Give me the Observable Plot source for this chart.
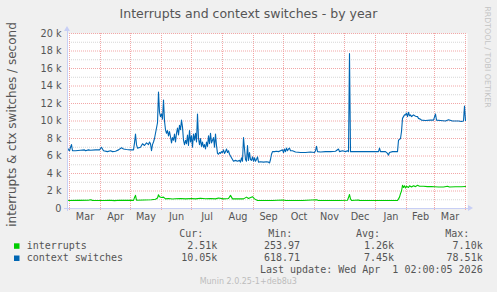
<!DOCTYPE html>
<html><head><meta charset="utf-8">
<script src="https://cdn.jsdelivr.net/npm/d3@7"></script>
<script src="https://cdn.jsdelivr.net/npm/@observablehq/plot@0.6"></script>
<style>
body{margin:0;background:#f0f0f0;}
#wrap{position:relative;width:497px;height:292px;overflow:hidden;background:#f0f0f0}
#wrap svg{position:absolute;left:0;top:0}
</style></head><body><div id="wrap"></div>
<script>
// ---------- data ----------
const ctxDates = ["2025-02-27","2025-02-28","2025-03-01","2025-03-02","2025-03-03","2025-03-04","2025-03-07","2025-03-12","2025-03-16","2025-03-17","2025-03-20","2025-03-22","2025-03-27","2025-03-31",
"2025-04-02","2025-04-04","2025-04-08","2025-04-11","2025-04-13","2025-04-16","2025-04-19","2025-04-22","2025-04-24","2025-04-27",
"2025-05-01","2025-05-04","2025-05-05","2025-05-06","2025-05-07","2025-05-08","2025-05-11","2025-05-13","2025-05-15","2025-05-17","2025-05-19","2025-05-20","2025-05-21","2025-05-22","2025-05-23","2025-05-24","2025-05-25","2025-05-26","2025-05-27","2025-05-28","2025-05-29","2025-05-30","2025-05-31",
"2025-06-01","2025-06-02","2025-06-03","2025-06-04","2025-06-05","2025-06-06","2025-06-07","2025-06-08","2025-06-09","2025-06-10","2025-06-11","2025-06-12","2025-06-13","2025-06-14","2025-06-15","2025-06-16","2025-06-17","2025-06-18","2025-06-19","2025-06-20","2025-06-21","2025-06-22","2025-06-23","2025-06-24","2025-06-25","2025-06-26","2025-06-27","2025-06-28","2025-06-29","2025-06-30",
"2025-07-01","2025-07-02","2025-07-03","2025-07-04","2025-07-05","2025-07-06","2025-07-07","2025-07-08","2025-07-09","2025-07-10","2025-07-11","2025-07-12","2025-07-13","2025-07-14","2025-07-15","2025-07-16","2025-07-17","2025-07-18","2025-07-19","2025-07-20","2025-07-21","2025-07-22","2025-07-23","2025-07-24","2025-07-25","2025-07-26","2025-07-27","2025-07-28","2025-07-29","2025-07-30","2025-07-31",
"2025-08-01","2025-08-02","2025-08-03","2025-08-04","2025-08-05","2025-08-06","2025-08-07","2025-08-08","2025-08-09","2025-08-11","2025-08-12","2025-08-14","2025-08-16","2025-08-18","2025-08-19","2025-08-20","2025-08-21","2025-08-22","2025-08-23","2025-08-24","2025-08-25","2025-08-26","2025-08-27","2025-08-28","2025-08-29","2025-08-30","2025-08-31",
"2025-09-01","2025-09-02","2025-09-03","2025-09-04","2025-09-05","2025-09-06","2025-09-08","2025-09-11","2025-09-14","2025-09-16","2025-09-17","2025-09-18","2025-09-19","2025-09-20","2025-09-22","2025-09-24","2025-09-26","2025-09-28","2025-09-30",
"2025-10-01","2025-10-02","2025-10-03","2025-10-04","2025-10-05","2025-10-06","2025-10-07","2025-10-08","2025-10-10","2025-10-13","2025-10-18","2025-10-23","2025-10-28",
"2025-11-01","2025-11-02","2025-11-03","2025-11-04","2025-11-07","2025-11-12","2025-11-17","2025-11-22","2025-11-25","2025-11-26","2025-11-29",
"2025-12-02","2025-12-04","2025-12-05","2025-12-06","2025-12-07","2025-12-09","2025-12-17","2025-12-27",
"2026-01-04","2026-01-05","2026-01-06","2026-01-11","2026-01-13","2026-01-14","2026-01-15","2026-01-18","2026-01-23","2026-01-24","2026-01-25","2026-01-26","2026-01-27","2026-01-28","2026-01-29","2026-01-30","2026-01-31",
"2026-02-01","2026-02-02","2026-02-03","2026-02-04","2026-02-05","2026-02-06","2026-02-07","2026-02-08","2026-02-10","2026-02-12","2026-02-13","2026-02-15","2026-02-16","2026-02-20","2026-02-25","2026-02-28",
"2026-03-02","2026-03-03","2026-03-07","2026-03-12","2026-03-15","2026-03-19","2026-03-25","2026-03-28","2026-03-30","2026-03-31","2026-04-01"];
const ctxValues = [6900,6700,6600,7000,7300,6600,6600,6650,6700,6600,6700,6650,6700,6700,
7000,6600,6500,6600,6500,6550,6700,6950,6800,6750,
6700,6700,7500,8500,7300,6900,7000,7400,7200,7500,7300,7600,7400,6600,7300,7600,8000,8600,9200,9800,13300,11000,10500,
10800,10200,12400,10000,9000,8600,8900,8300,8800,8200,7500,8100,7800,8500,7600,8600,9200,8400,9500,9000,10100,9300,7800,7300,7800,7400,8400,7200,8900,7600,
8300,7000,8500,7800,8600,7600,10800,8000,7300,8000,7100,7600,7000,7300,6800,7600,7100,8300,7400,8600,7500,7800,8100,7000,8500,7200,6300,6200,6400,6300,6500,
6400,6700,6300,6500,6800,6400,6600,6200,6000,5600,5400,5500,5400,5500,5300,5800,5400,8100,6800,5600,5400,7200,5500,6400,5600,5500,5900,
5400,5800,5400,5600,5900,5300,5350,5300,5350,5300,5200,5600,6200,6500,6500,6550,6500,6600,6700,
6400,6800,6500,6900,6600,6800,6900,6600,6600,6450,6400,6400,6450,
6400,6600,7100,6500,6450,6500,6500,6550,6800,6500,6600,
6500,6600,6500,17700,6500,6500,6500,6500,
6500,6900,6500,6500,6300,6100,6400,6500,6500,7800,7900,8000,8800,10300,10500,10700,10700,
10900,10500,11000,10600,10700,10500,10600,10700,10550,10500,10300,10200,10100,10050,10100,10100,
10800,10100,10050,10000,10150,10000,10000,9950,10000,11700,10050];

const intDates = ["2025-02-27","2025-03-01","2025-03-10","2025-03-20","2025-03-22","2025-03-24","2025-04-05","2025-04-10","2025-04-15","2025-04-20","2025-05-01","2025-05-04","2025-05-05","2025-05-06","2025-05-07","2025-05-15","2025-05-22","2025-05-26","2025-05-28","2025-05-29","2025-05-30",
"2025-06-01","2025-06-03","2025-06-05","2025-06-08","2025-06-12","2025-06-15","2025-06-20","2025-06-25","2025-07-01","2025-07-05","2025-07-10","2025-07-15","2025-07-20","2025-07-25","2025-07-28","2025-08-02","2025-08-07","2025-08-09","2025-08-11","2025-08-16","2025-08-22","2025-08-25","2025-08-27","2025-08-28","2025-08-31","2025-09-02","2025-09-05",
"2025-09-20","2025-10-01","2025-10-03","2025-10-20","2025-11-03","2025-11-05","2025-11-25","2025-12-04","2025-12-05","2025-12-06","2025-12-07","2025-12-08","2025-12-15","2025-12-16","2025-12-30","2026-01-15","2026-01-23",
"2026-01-24","2026-01-25","2026-01-26","2026-01-27","2026-01-28","2026-01-29","2026-01-30","2026-01-31","2026-02-01","2026-02-03","2026-02-04","2026-02-06","2026-02-08","2026-02-10","2026-02-12","2026-02-14","2026-02-18","2026-02-22","2026-02-26","2026-03-01","2026-03-05","2026-03-10","2026-03-14","2026-03-16","2026-03-22","2026-03-28","2026-04-01"];
const intValues = [950,920,930,950,1000,930,920,950,900,940,930,930,1250,1500,950,980,1000,1050,1200,1570,1350,
1250,1300,1100,1150,1080,1120,1150,1100,1150,1100,1180,1120,1150,1100,1200,1100,1150,1500,1100,1120,1100,1300,1150,1200,1350,1100,920,
920,980,920,920,1000,920,920,950,1250,1600,1100,920,970,920,920,920,920,
1100,1300,1700,2000,2650,2400,2600,2350,2550,2400,2600,2450,2600,2500,2650,2550,2550,2500,2500,2480,2450,2450,2550,2450,2480,2480,2510];

const seriesNames = ["interrupts", "context switches"];
const seriesColors = ["#00cc00", "#0066b3"];
const curValues = ["2.51k", "10.05k"];
const minValues = ["253.97", "618.71"];
const avgValues = ["1.26k", "7.45k"];
const maxValues = ["7.10k", "78.51k"];

const monthStarts = ["2025-03-01","2025-04-01","2025-05-01","2025-06-01","2025-07-01","2025-08-01","2025-09-01","2025-10-01","2025-11-01","2025-12-01","2026-01-01","2026-02-01","2026-03-01","2026-04-01"];
const monthLabels = ["Mar","Apr","May","Jun","Jul","Aug","Sep","Oct","Nov","Dec","Jan","Feb","Mar"];
const yTicks = [0,2000,4000,6000,8000,10000,12000,14000,16000,18000,20000];
const yMinor = [1000,3000,5000,7000,9000,11000,13000,15000,17000,19000];

const title = "Interrupts and context switches - by year";
const yLabel = "interrupts & ctx switches / second";
const lastUpdate = "Last update: Wed Apr  1 02:00:05 2026";
const footer = "Munin 2.0.25-1+deb8u3";
const watermark = "RRDTOOL / TOBI OETIKER";

// ---------- build ----------
const parse = d3.utcParse("%Y-%m-%d");
const ctx = ctxDates.map((d, i) => ({date: parse(d), v: ctxValues[i]}));
const intr = intDates.map((d, i) => ({date: parse(d), v: intValues[i]}));
const starts = monthStarts.map(parse);
const mids = monthLabels.map((m, i) => new Date((+starts[i] + +starts[i + 1]) / 2));
const xDomain = [parse("2025-02-27"), parse("2026-04-03")];

const axisColor = "#c8cff5";
const majorGrid = "#f2a7a7";
const minorGrid = "#d6d6d6";
const textColor = "#555";

const chart = Plot.plot({
  width: 497, height: 292,
  marginTop: 33, marginBottom: 84, marginLeft: 67, marginRight: 30,
  style: {background: "transparent", fontFamily: "DejaVu Sans", fontSize: "9.7px", color: textColor, overflow: "visible"},
  x: {type: "utc", domain: xDomain, axis: null},
  y: {domain: [0, 20000], axis: null},
  marks: [
    Plot.frame({fill: "white", stroke: null}),
    Plot.ruleY(yMinor, {stroke: minorGrid, strokeDasharray: "1,1"}),
    Plot.ruleY(yTicks.slice(1), {stroke: majorGrid, strokeDasharray: "1,1"}),
    Plot.ruleX(starts, {stroke: majorGrid, strokeDasharray: "1,1", insetBottom: -2}),
    Plot.axisY(yTicks, {anchor: "left", tickSize: 0, tickPadding: 6, label: null,
      tickFormat: d => d === 0 ? "0" : `${d / 1000} k`}),
    Plot.axisX(mids, {anchor: "bottom", tickSize: 0, tickPadding: 5, label: null,
      tickFormat: (d, i) => monthLabels[i]}),
    Plot.line(intr, {x: "date", y: "v", stroke: seriesColors[0], strokeWidth: 1.1}),
    Plot.line(ctx, {x: "date", y: "v", stroke: seriesColors[1], strokeWidth: 1.1}),
    Plot.ruleY([0], {stroke: axisColor, insetLeft: -3, insetRight: -3}),
    Plot.ruleX([xDomain[0]], {stroke: axisColor, insetTop: -4, insetBottom: -3})
  ]
});
document.getElementById("wrap").appendChild(chart);

// ---------- overlay: title, labels, legend ----------
const svg = d3.select(chart);
const sx = chart.scale("x"), sy = chart.scale("y");
const x0 = sx.apply(xDomain[0]), x1 = sx.apply(xDomain[1]);
const y0 = sy.apply(0), yTop = sy.apply(20000);
const g = svg.append("g").attr("fill", textColor).attr("text-anchor", "start")
  .style("font-family", "DejaVu Sans");

// arrowheads
g.append("path").attr("fill", axisColor)
  .attr("d", `M${x0 - 3},${yTop - 2} L${x0 + 3},${yTop - 2} L${x0},${yTop - 7} Z`);
g.append("path").attr("fill", axisColor)
  .attr("d", `M${x1 + 1},${y0 - 3} L${x1 + 1},${y0 + 3} L${x1 + 6},${y0} Z`);

g.append("text").attr("x", 248.5).attr("y", 18).attr("text-anchor", "middle")
  .style("font-size", "12.5px").text(title);
g.append("text").attr("transform", `translate(15.5,${(y0 + yTop) / 2 + 4}) rotate(-90)`)
  .attr("text-anchor", "middle").style("font-size", "12px").text(yLabel);
g.append("text").attr("transform", `translate(485,57) rotate(90)`)
  .attr("text-anchor", "middle").attr("fill", "#c4c4c4").style("font-size", "7.9px").text(watermark);

// legend
const lg = g.append("g").style("font-family", "DejaVu Sans Mono").style("font-size", "10px")
  .style("white-space", "pre");
const colsRight = [217.3, 300, 394, 482.7];
const heads = ["Cur:", "Min:", "Avg:", "Max:"];
const headRight = [203.3, 292.3, 380, 469.3];
heads.forEach((h, i) => lg.append("text").attr("x", headRight[i]).attr("y", 237)
  .attr("text-anchor", "end").text(h));
const cols = [curValues, minValues, avgValues, maxValues];
seriesNames.forEach((name, r) => {
  const by = 249 + r * 12.2;
  lg.append("rect").attr("x", 14).attr("y", by - 5.7).attr("width", 5.5).attr("height", 5.5)
    .attr("fill", seriesColors[r]);
  lg.append("text").attr("x", 26.7).attr("y", by).attr("text-anchor", "start").text(name);
  cols.forEach((c, i) => lg.append("text").attr("x", colsRight[i]).attr("y", by)
    .attr("text-anchor", "end").text(c[r]));
});
lg.append("text").attr("x", 482.7).attr("y", 272.7).attr("text-anchor", "end")
  .attr("xml:space", "preserve").text(lastUpdate);
g.append("text").attr("x", 248.3).attr("y", 283.5).attr("text-anchor", "middle")
  .attr("fill", "#bdbdbd").style("font-size", "8px").text(footer);
</script>
</body></html>
